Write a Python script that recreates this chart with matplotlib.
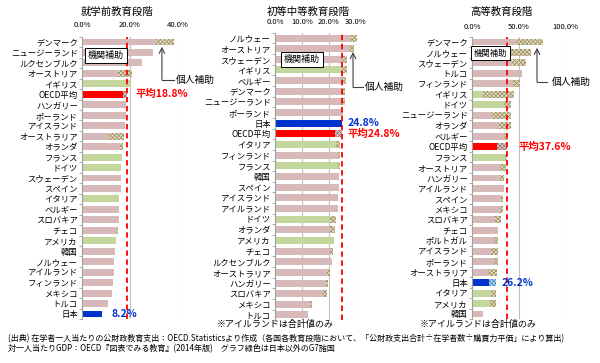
import matplotlib
matplotlib.use('Agg')
import matplotlib.pyplot as plt
import numpy as np

plt.rcParams['font.family'] = ['Noto Sans CJK JP', 'DejaVu Sans']
plt.rcParams['hatch.linewidth'] = 0.5

# 就学前教育段階
countries1 = ['デンマーク', 'ニュージーランド', 'ルクセンブルク', 'オーストリア', 'イギリス', 'OECD平均',
              'ハンガリー', 'ポーランド', 'アイスランド', 'オーストラリア', 'オランダ', 'フランス', 'ドイツ',
              'スウェーデン', 'スペイン', 'イタリア', 'ベルギー', 'スロバキア', 'チェコ', 'アメリカ', '韓国',
              'ノルウェー', 'アイルランド', 'フィンランド', 'メキシコ', 'トルコ', '日本']
inst1 = [31.0, 29.4, 24.8, 14.8, 20.4, 17.0, 18.5, 18.2, 18.1, 11.2, 15.9, 16.8, 16.4,
         16.1, 16.1, 15.6, 15.3, 15.3, 14.5, 14.2, 13.7, 13.5, 13.4, 13.1, 12.4, 11.0, 8.2]
total1 = [38.2, 29.4, 24.8, 20.8, 20.4, 18.8, 18.5, 18.2, 18.1, 17.4, 17.0, 16.8, 16.4,
          16.1, 16.1, 15.6, 15.3, 15.3, 14.9, 14.2, 13.7, 13.5, 13.4, 13.1, 12.4, 11.0, 8.2]

# 初等中等教育段階
countries2 = ['ノルウェー', 'オーストリア', 'スウェーデン', 'イギリス', 'ベルギー', 'デンマーク',
              'ニュージーランド', 'ポーランド', '日本', 'OECD平均', 'イタリア', 'フィンランド', 'フランス',
              '韓国', 'スペイン', 'アイスランド', 'アイルランド', 'ドイツ', 'オランダ', 'アメリカ', 'チェコ',
              'ルクセンブルク', 'オーストラリア', 'ハンガリー', 'スロバキア', 'メキシコ', 'トルコ']
inst2 = [28.3, 27.8, 25.1, 24.3, 24.7, 24.3, 24.3, 24.7, 24.8, 22.3, 22.6, 23.2, 23.3,
         23.8, 23.7, 23.5, 23.3, 20.4, 20.2, 21.9, 20.4, 21.0, 19.1, 18.9, 17.7, 13.0, 12.2]
total2 = [30.2, 29.1, 26.8, 26.5, 26.4, 26.0, 25.9, 25.1, 24.8, 24.8, 24.2, 24.2, 24.1,
          23.8, 23.7, 23.5, 23.3, 22.6, 22.2, 21.9, 21.4, 21.0, 20.2, 19.8, 19.4, 13.8, 12.2]

# 高等教育段階
countries3 = ['デンマーク', 'ノルウェー', 'スウェーデン', 'トルコ', 'フィンランド', 'イギリス', 'ドイツ',
              'ニュージーランド', 'オランダ', 'ベルギー', 'OECD平均', 'フランス', 'オーストリア', 'ハンガリー',
              'アイルランド', 'スペイン', 'メキシコ', 'スロバキア', 'チェコ', 'ポルトガル', 'アイスランド',
              'ポーランド', 'オーストラリア', '日本', 'イタリア', 'アメリカ', '韓国']
inst3 = [47.1, 39.0, 43.2, 53.6, 44.6, 12.1, 34.3, 21.4, 29.3, 33.9, 26.4, 35.4, 30.0, 30.0,
         34.3, 30.7, 30.4, 24.3, 28.2, 23.6, 20.4, 23.6, 17.5, 18.2, 20.4, 19.6, 11.8]
total3 = [76.4, 63.2, 57.9, 53.6, 52.1, 45.0, 41.4, 41.4, 41.4, 38.6, 37.6, 37.5, 36.4, 34.6,
          34.3, 33.2, 32.9, 31.4, 28.2, 27.9, 27.9, 27.5, 26.8, 26.2, 26.1, 26.0, 11.8]

titles = ['就学前教育段階', '初等中等教育段階', '高等教育段階']
oecd_avg = [18.8, 24.8, 37.6]
japan_val = [8.2, 24.8, 26.2]
xticks = [[0, 20, 40], [0, 10, 20, 30], [0, 50, 100]]
xlims = [40, 30, 100]

g7 = ['イギリス', 'フランス', 'ドイツ', 'イタリア', 'アメリカ']
PINK = '#D8B9B9'
GREEN = '#C3D69B'
RED = '#FF0000'
BLUE = '#0033CC'


def bar_color(c):
    if c == 'OECD平均':
        return RED
    if c == '日本':
        return BLUE
    if c in g7:
        return GREEN
    return PINK


def hatch_style(c):
    if c == '日本':
        return '#A8D0E8', '#4A88B8'
    if c == 'OECD平均':
        return '#E0C8C8', '#907070'
    return '#E2DBC0', '#9A8C5C'


fig = plt.figure(figsize=(6.0, 3.63), dpi=100)
H = 363.0
W = 600.0
# axes in pixels: left, right, top, bottom
boxes = [(82, 178, 36.8, 319.2), (275, 356, 32.7, 320.3), (472, 565, 36.8, 319.2)]
tick_y = [25, 22, 27]
title_xy = [(117, 12), (308, 12), (501, 12)]

data = [(countries1, inst1, total1), (countries2, inst2, total2), (countries3, inst3, total3)]
axes = []
for k, (cs, ins, tot) in enumerate(data):
    l, r, t, b = boxes[k]
    ax = fig.add_axes([l / W, 1 - b / H, (r - l) / W, (b - t) / H])
    axes.append(ax)
    y = np.arange(len(cs))
    cols = [bar_color(c) for c in cs]
    ax.barh(y, ins, height=0.66, color=cols, linewidth=0, zorder=2, clip_on=False)
    rest = np.array(tot) - np.array(ins)
    for i, c in enumerate(cs):
        if rest[i] > 0.05:
            fc, hc = hatch_style(c)
            ax.barh(i, rest[i], left=ins[i], height=0.66, color=fc, edgecolor=hc,
                    hatch='xxxxxxxx', linewidth=0, zorder=2, clip_on=False)
    ax.set_ylim(len(cs) - 0.5, -0.5)
    ax.set_xlim(0, xlims[k])
    ax.set_yticks(y)
    ax.set_yticklabels(cs, fontsize=6)
    ax.set_yticks(np.arange(len(cs) + 1) - 0.5, minor=True)
    ax.tick_params(axis='y', which='major', length=0, pad=3)
    ax.tick_params(axis='y', which='minor', length=2, color='#A0A0A0', width=0.6)
    ax.set_xticks(xticks[k])
    ax.set_xticklabels(['%.1f%%' % v for v in xticks[k]], fontsize=5.5)
    ax.xaxis.tick_top()
    ax.tick_params(axis='x', length=0)
    ax.grid(axis='x', color='#C0C0C0', linewidth=0.8, zorder=0)
    for s in ['top', 'right', 'bottom']:
        ax.spines[s].set_visible(False)
    ax.spines['left'].set_color('#A0A0A0')
    ax.spines['left'].set_linewidth(0.8)
    ax.set_axisbelow(True)
    ax.axvline(oecd_avg[k], color=RED, linestyle=(0, (3, 2)), linewidth=1.3, zorder=3, clip_on=False)
    fig.text(title_xy[k][0] / W, 1 - title_xy[k][1] / H, titles[k], fontsize=7.5,
             ha='center', va='center')
    ax.xaxis.set_tick_params(pad=(t - tick_y[k]) * 72 / 100 - 3)

ax1, ax2, ax3 = axes

box_kw = dict(boxstyle='square,pad=0.3', fc='white', ec='black', lw=0.7)
ax1.text(10, 1.3, '機関補助', fontsize=6.5, ha='center', va='center', bbox=box_kw, zorder=5)
ax2.text(10, 2.0, '機関補助', fontsize=6.5, ha='center', va='center', bbox=box_kw, zorder=5)
ax3.text(20, 1.05, '機関補助', fontsize=6, ha='center', va='center', bbox=box_kw, zorder=5)

# 個人補助 arrows
arrows = [(ax1, 33.3, 0.45, 3.6, 38.3, 39.3), (ax2, 28.9, 1.3, 4.6, 32.6, 33.4),
          (ax3, 69.9, 0.55, 3.8, 80.6, 86.0)]
for ax, xh, yh, ye, xe, xt in arrows:
    ax.plot([xh, xe], [ye, ye], color='#404040', lw=0.8, clip_on=False, zorder=5)
    ax.annotate('', xy=(xh, yh), xytext=(xh, ye),
                arrowprops=dict(arrowstyle='->', color='#404040', lw=0.8, shrinkA=0, shrinkB=0),
                annotation_clip=False, zorder=5)
    ax.text(xt, ye, '個人補助', fontsize=7, ha='left', va='center', clip_on=False)

lbl_kw = dict(fontsize=7.5, fontweight='bold', va='center', ha='left')
ax1.text(22.5, countries1.index('OECD平均'), '平均%.1f%%' % oecd_avg[0], color=RED, **lbl_kw)
ax1.text(12.1, countries1.index('日本'), '%.1f%%' % japan_val[0], color=BLUE, **lbl_kw)
ax2.text(27.0, countries2.index('日本'), '%.1f%%' % japan_val[1], color=BLUE, **lbl_kw)
ax2.text(27.0, countries2.index('OECD平均'), '平均%.1f%%' % oecd_avg[1], color=RED, **lbl_kw)
ax3.text(50.5, countries3.index('OECD平均'), '平均%.1f%%' % oecd_avg[2], color=RED, **lbl_kw)
ax3.text(32.0, countries3.index('日本'), '%.1f%%' % japan_val[2], color=BLUE, **lbl_kw)

fig.text(217 / W, 1 - 324 / H, '※アイルランドは合計値のみ', fontsize=6.5, ha='left', va='center')
fig.text(420 / W, 1 - 324 / H, '※アイルランドは合計値のみ', fontsize=6.5, ha='left', va='center')

fig.text(8 / W, 1 - 339 / H,
         '(出典) 在学者一人当たりの公財政教育支出：OECD.Statisticsより作成（各国各教育段階において、「公財政支出合計÷在学者数÷購買力平価」により算出)',
         fontsize=5.8, ha='left', va='center')
fig.text(8 / W, 1 - 349 / H,
         '対一人当たりGDP：OECD『図表でみる教育』(2014年版)　グラフ緑色は日本以外のG7諸国',
         fontsize=5.8, ha='left', va='center')

fig.savefig('out.png', dpi=100)
